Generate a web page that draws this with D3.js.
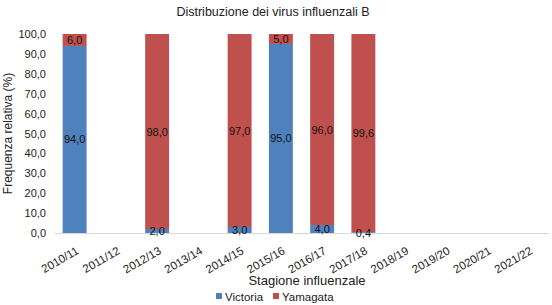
<!DOCTYPE html>
<html>
<head>
<meta charset="utf-8">
<script src="https://cdn.jsdelivr.net/npm/d3@7"></script>
<style>
body { margin: 0; background: #fff; }
text { font-family: "Liberation Sans", Arial, sans-serif; }
</style>
</head>
<body>
<div id="chart"></div>
<script>
const width = 552
const height = 305
const margin = {top: 34, left: 54, right: 3, bottom: 72}

// dati
const seasons = ["2010/11","2011/12","2012/13","2013/14","2014/15","2015/16","2016/17","2017/18","2018/19","2019/20","2020/21","2021/22"]
const victoria = [94.0, null, 2.0, null, 3.0, 95.0, 4.0, 0.4, null, null, null, null]
const yamagata = [6.0, null, 98.0, null, 97.0, 5.0, 96.0, 99.6, null, null, null, null]
const yTicks = [0,10,20,30,40,50,60,70,80,90,100]
const seriesNames = ["Victoria", "Yamagata"]
const colors = ["#4F81BD", "#C0504D"]

const fmt = v => d3.format(".1f")(v).replace(".", ",")

const svg = d3.select("#chart").append("svg").attr("width", width).attr("height", height)

const x = d3.scaleBand().domain(seasons).range([margin.left, width - margin.right]).paddingInner(0.42).paddingOuter(0.21)
const y = d3.scaleLinear().domain([0, 100]).range([height - margin.bottom, margin.top])

const rows = seasons.map((s, i) => ({season: s, Victoria: victoria[i] || 0, Yamagata: yamagata[i] || 0, has: victoria[i] != null}))
const stacked = d3.stack().keys(seriesNames)(rows)

// titolo
svg.append("text").attr("x", 273).attr("y", 16).attr("text-anchor", "middle")
    .attr("font-size", 12.5).attr("fill", "#222").text("Distribuzione dei virus influenzali B")

// asse y
const yAxis = svg.append("g").attr("transform", `translate(${margin.left},0)`)
    .call(d3.axisLeft(y).tickValues(yTicks).tickFormat(fmt).tickSize(0).tickPadding(8))
yAxis.select(".domain").remove()
yAxis.selectAll("text").attr("font-size", 11).attr("fill", "#222").attr("font-family", "Liberation Sans, Arial, sans-serif")

// barre
stacked.forEach((layer, k) => {
    svg.append("g").selectAll("rect").data(layer.filter(d => d.data.has))
        .enter().append("rect")
        .attr("x", d => x(d.data.season))
        .attr("width", x.bandwidth())
        .attr("y", d => y(d[1]))
        .attr("height", d => y(d[0]) - y(d[1]))
        .attr("fill", colors[k])
})

// asse x
const xAxis = svg.append("g").attr("transform", `translate(0,${y(0)})`)
    .call(d3.axisBottom(x).tickSize(0))
xAxis.select(".domain").attr("stroke", "#d9d9d9").attr("stroke-width", 1)
xAxis.selectAll("text").attr("font-size", 11.5).attr("fill", "#222")
    .attr("font-family", "Liberation Sans, Arial, sans-serif")
    .attr("text-anchor", "end")
    .attr("y", 0).attr("dy", 0)
    .attr("transform", "translate(5,20) rotate(-30)")

// etichette dati
stacked.forEach((layer, k) => {
    svg.append("g").selectAll("text").data(layer.filter(d => d.data.has))
        .enter().append("text")
        .attr("x", d => x(d.data.season) + x.bandwidth() / 2)
        .attr("y", d => y((d[0] + d[1]) / 2) + 4)
        .attr("text-anchor", "middle")
        .attr("font-size", 11).attr("fill", "#111")
        .text(d => fmt(d[1] - d[0]))
})

// titoli assi
svg.append("text").attr("transform", `translate(12,${(y(0) + y(100)) / 2}) rotate(-90)`)
    .attr("text-anchor", "middle").attr("font-size", 12).attr("fill", "#222").text("Frequenza relativa (%)")
svg.append("text").attr("x", 307).attr("y", 285).attr("text-anchor", "middle")
    .attr("font-size", 13).attr("fill", "#222").text("Stagione influenzale")

// legenda
const legend = svg.append("g")
const lx = [216, 273]
seriesNames.forEach((n, i) => {
    legend.append("rect").attr("x", lx[i]).attr("y", 293).attr("width", 6).attr("height", 6).attr("fill", colors[i])
    legend.append("text").attr("x", lx[i] + 9).attr("y", 301).attr("font-size", 11.5).attr("fill", "#222").text(n)
})
</script>
</body>
</html>
